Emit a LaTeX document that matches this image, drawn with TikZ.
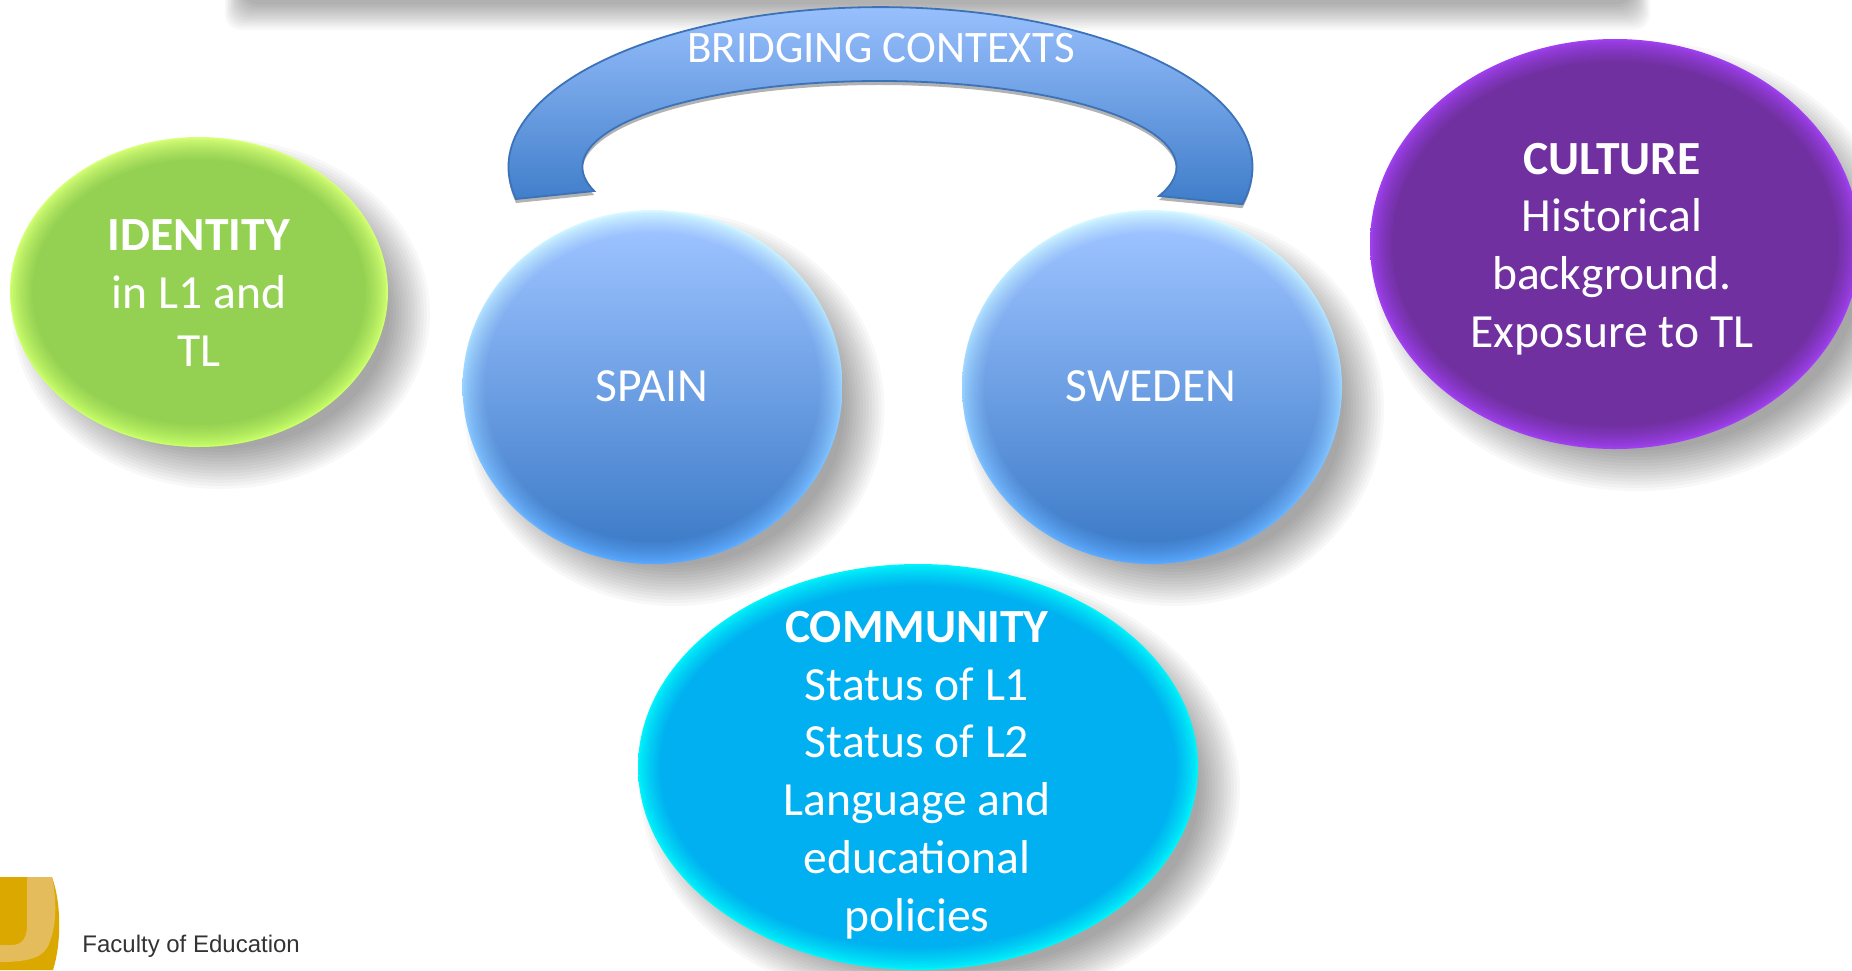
\documentclass[tikz,border=0pt]{standalone}
\usepackage{fontspec}
\setmainfont{Carlito}
\newfontfamily\logofont{Liberation Sans}
\usetikzlibrary{shapes.geometric}
\definecolor{bluetop}{HTML}{9CC2FF}
\definecolor{bluebot}{HTML}{3F7DC9}
\definecolor{bluerimtop}{HTML}{D8FBFF}
\definecolor{bluerimbot}{HTML}{58A8FF}
\definecolor{greenfill}{HTML}{94D152}
\definecolor{greenrimtop}{HTML}{D8FF78}
\definecolor{greenrimbot}{HTML}{C8FF68}
\definecolor{purplefill}{HTML}{7030A0}
\definecolor{purplerim}{HTML}{A040F0}
\definecolor{cyanfill}{HTML}{00B0F0}
\definecolor{cyanrim}{HTML}{00F4FA}
\definecolor{archline}{HTML}{3B72B8}
\definecolor{goldfill}{HTML}{DBA800}
\definecolor{goldlight}{HTML}{E4BC5C}
\tikzset{
  x=0.5pt,y=-0.5pt,
  bigtext/.style={text=white,align=center,inner sep=0pt,font=\fontsize{23.8}{28.9}\selectfont},
}
% centre x, centre y, x radius, y radius, top fill, bottom fill, top rim, bottom rim
\newcommand\blobshape[8]{%
  \foreach \k in {0,...,13}{%
    \pgfmathsetmacro\sr{20-3.1*\k}%
    \fill[black,opacity=0.028] (#1+22,#2+22) ellipse [x radius=#3+\sr,y radius=#4+\sr];
  }%
  \foreach \k in {0,...,15}{%
    \pgfmathsetmacro\pc{int(100*(\k/15)^0.75)}%
    \pgfmathsetmacro\ins{1.5*\k}%
    \shade[top color=#5!\pc!#7,bottom color=#6!\pc!#8] (#1,#2) ellipse [x radius=#3-\ins,y radius=#4-\ins];
  }%
}
\newcommand\archpath{(516,199) arc[start angle=168.5,end angle=373.4,x radius=372,y radius=160]
  -- (1159,196) arc[start angle=379.7,end angle=163.8,x radius=297,y radius=86] -- cycle}
\begin{document}
\begin{tikzpicture}
\useasboundingbox (0,0) rectangle (1852,970);
\clip (0,0) rectangle (1852,970);
\fill[white] (0,0) rectangle (1852,970);
% shadow of the bar at the top
\foreach \k in {0,...,11}{
  \pgfmathsetmacro\ey{30-2.3*\k}
  \pgfmathsetmacro\ex{10-1.6*\k}
  \fill[black,opacity=0.027,rounded corners=8] (235-\ex,-20) rectangle (1640+\ex,\ey);
}
% arch shadow
\begin{scope}[yshift=-2pt]
\fill[black,opacity=0.3] \archpath;
\end{scope}
% arch
\shade[top color=bluetop,bottom color=bluebot,draw=archline,line width=0.9pt] \archpath;
\node[text=white,inner sep=0pt,font=\fontsize{22.5}{27}\selectfont] (bridging) at (881,48) {BRIDGING CONTEXTS};
% ovals
\blobshape{199}{292}{189}{155}{greenfill}{greenfill}{greenrimtop}{greenrimbot}
\blobshape{652.5}{387}{190}{177}{bluetop}{bluebot}{bluerimtop}{bluerimbot}
\blobshape{1152}{387}{190}{177}{bluetop}{bluebot}{bluerimtop}{bluerimbot}
\blobshape{1615}{244}{245}{205}{purplefill}{purplefill}{purplerim}{purplerim}
\blobshape{918}{767}{280}{203}{cyanfill}{cyanfill}{cyanrim}{cyanrim}
\node[bigtext] (identity) at (199,293) {\textbf{IDENTITY}\\in L1 and\\TL};
\node[bigtext] (spain) at (652,386) {SPAIN};
\node[bigtext] (sweden) at (1151,386) {SWEDEN};
\node[bigtext] (culture) at (1612,249) {\textbf{CULTURE}\\Historical\\background.\\Exposure to TL};
\node[bigtext] (community) at (917,775) {\textbf{COMMUNITY}\\Status of L1\\Status of L2\\Language and\\educational\\policies};
% logo
\fill[goldfill] (0,877) -- (52,877) .. controls (62,905) and (61,945) .. (53,970) -- (0,970) -- cycle;
\fill[goldlight] (27,877) -- (52,877) .. controls (57,900) and (57,930) .. (47,948) .. controls (40,960) and (20,962) .. (0,962) -- (0,945) -- (12,945) .. controls (22,945) and (27,938) .. (27,925) -- cycle;
\node[anchor=base west,inner sep=0pt,text=black!80,font=\logofont\fontsize{12}{14}\selectfont] (faculty) at (82,952) {Faculty of Education};
\end{tikzpicture}
\end{document}
